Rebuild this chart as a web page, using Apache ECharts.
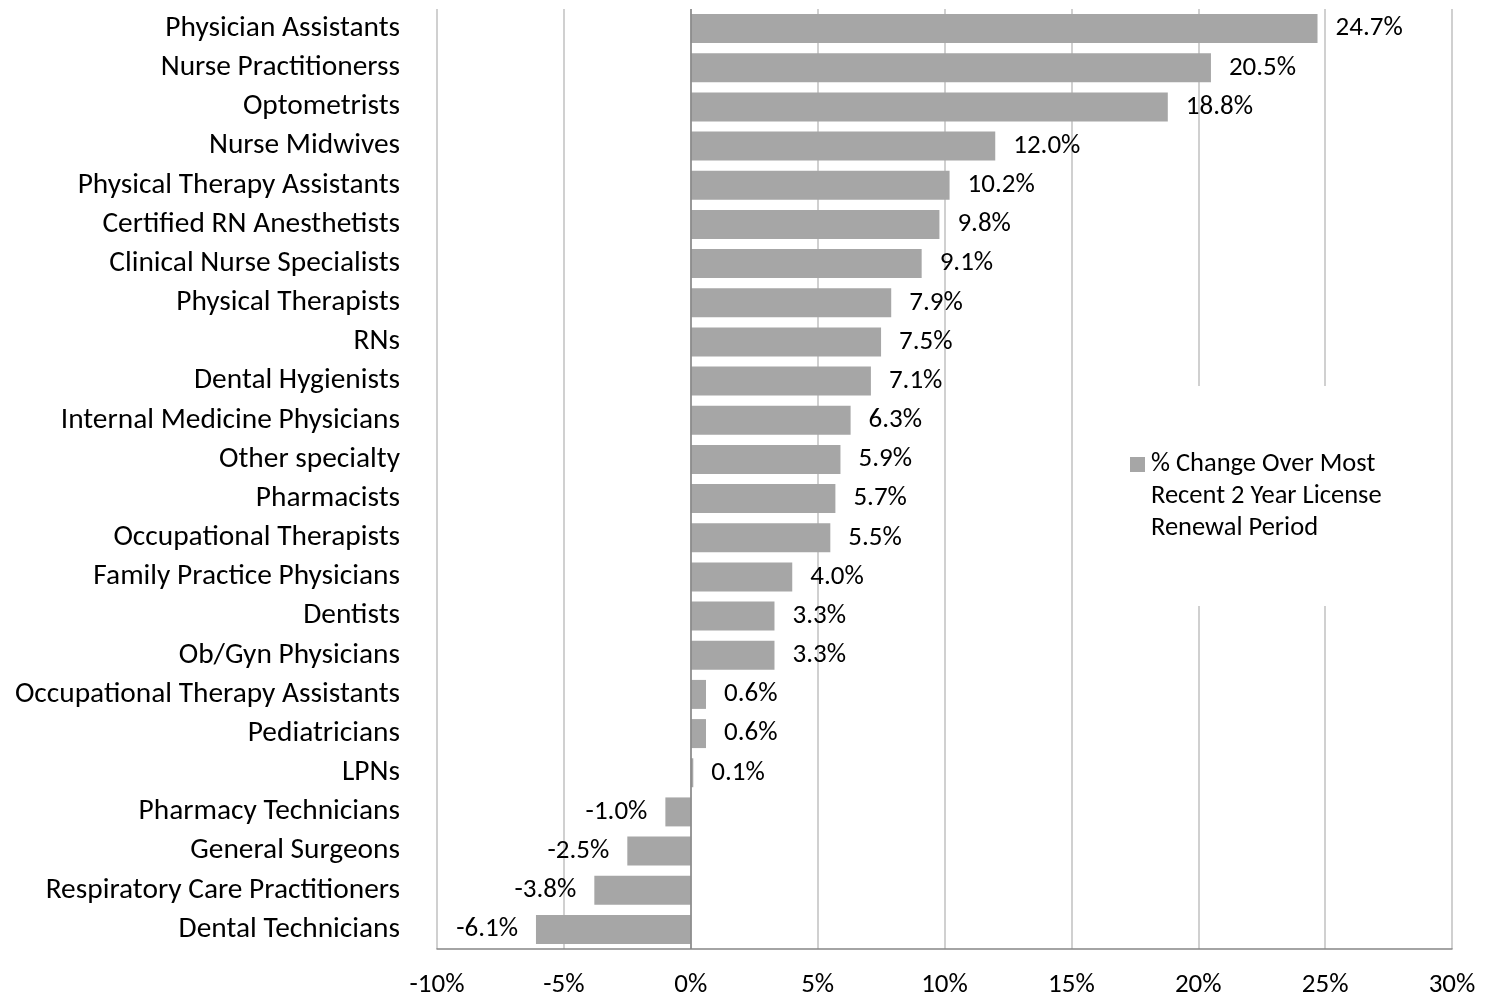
<!DOCTYPE html>
<html>
<head>
<meta charset="utf-8">
<script src="https://cdn.jsdelivr.net/npm/echarts@6/dist/echarts.min.js"></script>
<style>
  html, body { margin: 0; padding: 0; background: #fff; }
  #chart { width: 1489px; height: 997px; }
</style>
</head>
<body>
<div id="chart"></div>
<script>
// professions, top to bottom
var categories = [
  'Physician Assistants', 'Nurse Practitionerss', 'Optometrists', 'Nurse Midwives',
  'Physical Therapy Assistants', 'Certified RN Anesthetists', 'Clinical Nurse Specialists',
  'Physical Therapists', 'RNs', 'Dental Hygienists', 'Internal Medicine Physicians',
  'Other specialty', 'Pharmacists', 'Occupational Therapists', 'Family Practice Physicians',
  'Dentists', 'Ob/Gyn Physicians', 'Occupational Therapy Assistants', 'Pediatricians',
  'LPNs', 'Pharmacy Technicians', 'General Surgeons', 'Respiratory Care Practitioners',
  'Dental Technicians'
];
// % change over most recent 2 year license renewal period
var pctChange = [
  24.7, 20.5, 18.8, 12.0, 10.2, 9.8, 9.1, 7.9, 7.5, 7.1, 6.3, 5.9, 5.7, 5.5, 4.0,
  3.3, 3.3, 0.6, 0.6, 0.1, -1.0, -2.5, -3.8, -6.1
];
var seriesName = '% Change Over Most\nRecent 2 Year License\nRenewal Period';

var FONT = 'Carlito, Calibri, "Open Sans", sans-serif';

var barData = pctChange.map(function (v) {
  return { value: v, label: { position: v < 0 ? 'left' : 'right' } };
});

var chart = echarts.init(document.getElementById('chart'));
chart.setOption({
  animation: false,
  backgroundColor: '#fff',
  grid: { left: 437, right: 37, top: 9, bottom: 48, containLabel: false, outerBoundsMode: 'none' },
  xAxis: {
    type: 'value',
    min: -10,
    max: 30,
    interval: 5,
    axisLine: { show: true, onZero: false, lineStyle: { color: '#868686', width: 1.5 } },
    axisTick: { show: false },
    splitLine: { show: true, lineStyle: { color: '#c0c0c0', width: 1.5 } },
    axisLabel: {
      formatter: '{value}%',
      margin: 23,
      color: '#000',
      fontSize: 27,
      fontFamily: FONT
    }
  },
  yAxis: {
    type: 'category',
    inverse: true,
    data: categories,
    axisLine: { show: false },
    axisTick: { show: false },
    axisLabel: { margin: 37, color: '#000', fontSize: 29.4, fontFamily: FONT, padding: [4, 0, 0, 0] }
  },
  legend: {
    left: 1130,
    top: 448,
    padding: 0,
    itemGap: 0,
    itemWidth: 15,
    itemHeight: 78,
    icon: 'path://M0,0L15,0L15,15L0,15Z M0,78L15,78Z',
    textStyle: { color: '#000', fontSize: 26.5, lineHeight: 32, fontFamily: FONT, padding: [0, 0, 0, 1] },
    data: [seriesName]
  },
  graphic: [{
    type: 'rect',
    z: 1,
    shape: { x: 1105, y: 386, width: 310, height: 220 },
    style: { fill: '#fff' }
  }],
  series: [{
    name: seriesName,
    type: 'bar',
    data: barData,
    barCategoryGap: '26%',
    itemStyle: { color: '#a6a6a6' },
    label: {
      show: true,
      distance: 18,
      color: '#000',
      fontSize: 27,
      fontFamily: FONT,
      padding: [4, 0, 0, 0],
      formatter: function (p) { return p.value.toFixed(1) + '%'; }
    },
    markLine: {
      silent: true,
      symbol: 'none',
      label: { show: false },
      lineStyle: { color: '#868686', width: 1.5, type: 'solid' },
      data: [{ xAxis: 0 }]
    }
  }]
});
</script>
</body>
</html>
